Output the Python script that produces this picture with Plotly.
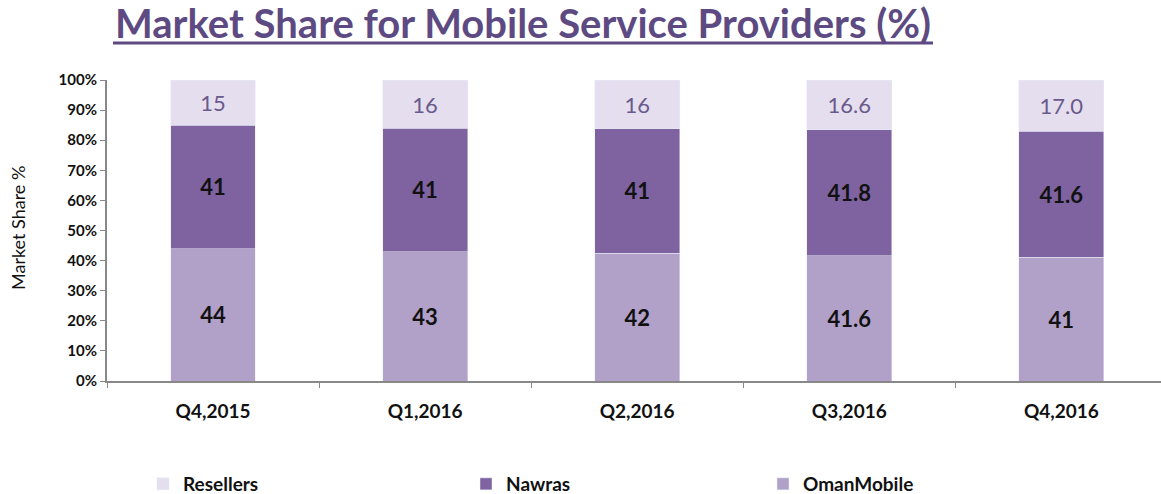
import plotly.graph_objects as go

quarters = ["Q4,2015", "Q1,2016", "Q2,2016", "Q3,2016", "Q4,2016"]
oman_mobile = [44, 43, 42, 41.6, 41]
nawras = [41, 41, 41, 41.8, 41.6]
resellers = [15, 16, 16, 16.6, 17.0]
oman_labels = ["44", "43", "42", "41.6", "41"]
nawras_labels = ["41", "41", "41", "41.8", "41.6"]
resellers_labels = ["15", "16", "16", "16.6", "17.0"]
y_ticks = list(range(0, 101, 10))
y_ticklabels = [f"{v}%" for v in y_ticks]

C_OMAN = "#B1A0C8"
C_NAWRAS = "#7E63A0"
C_RES = "#E5DEEE"
FONT = "Lato, 'DejaVu Sans', sans-serif"

W, H = 1161, 494
L, R, T, B = 107, 0, 80, 113
PW, PH = W - L - R, H - T - B

fig = go.Figure()
fig.add_trace(go.Bar(
    x=quarters, y=oman_mobile, name="OmanMobile", marker_color=C_OMAN,
    text=oman_labels, textposition="inside", insidetextanchor="middle",
    textfont=dict(family=FONT, size=22, color="#111111", weight="bold"),
    legend="legend3", showlegend=True,
))
fig.add_trace(go.Bar(
    x=quarters, y=nawras, name="Nawras", marker_color=C_NAWRAS,
    text=nawras_labels, textposition="inside", insidetextanchor="middle",
    textfont=dict(family=FONT, size=22, color="#111111", weight="bold"),
    legend="legend2", showlegend=True,
))
fig.add_trace(go.Bar(
    x=quarters, y=resellers, name="Resellers", marker_color=C_RES,
    text=resellers_labels, textposition="inside", insidetextanchor="middle",
    textfont=dict(family=FONT, size=22, color="#6A5A8C"),
    legend="legend", showlegend=True,
))

legend_common = dict(orientation="h", yanchor="middle", xanchor="left",
                     xref="container", yref="container",
                     y=1 - 484 / H,
                     font=dict(family=FONT, size=19, color="#111111", weight="bold"),
                     bgcolor="rgba(0,0,0,0)", itemclick=False, itemdoubleclick=False)

underline_y = 1 + (T - 43) / PH

fig.update_layout(
    width=W, height=H,
    margin=dict(l=L, r=R, t=T, b=B, autoexpand=False),
    paper_bgcolor="white", plot_bgcolor="white",
    showlegend=True,
    barmode="stack", barnorm="percent", bargap=0.6,
    title=dict(
        text="<b>Market Share for Mobile Service Providers (%)</b>",
        x=523 / W, xanchor="center", y=1 - 24 / H, yanchor="middle",
        font=dict(family=FONT, size=40, color="#5E4A82"),
    ),
    legend=dict(x=143 / W, **legend_common),
    legend2=dict(x=466 / W, **legend_common),
    legend3=dict(x=763 / W, **legend_common),
    shapes=[dict(type="line", xref="paper", yref="paper",
                 x0=(113 - L) / PW, x1=(933 - L) / PW,
                 y0=underline_y, y1=underline_y,
                 line=dict(color="#5E4A82", width=3))],
    annotations=[dict(text="Market Share %", xref="paper", yref="paper",
                      x=(18 - L) / PW, y=(381 - 228) / PH, textangle=-90,
                      xanchor="center", yanchor="middle", showarrow=False,
                      font=dict(family=FONT, size=18, color="#111111"))],
    font=dict(family=FONT),
)

fig.update_xaxes(
    range=[-0.5, 4.47], showline=True, linecolor="#888888", linewidth=2,
    ticks="outside", tickson="boundaries", ticklen=5, tickcolor="#888888",
    ticklabelstandoff=12, automargin=False,
    tickfont=dict(family=FONT, size=19, color="#111111", weight="bold"),
    showgrid=False,
)
fig.update_yaxes(
    range=[0, 100], tickvals=y_ticks, ticktext=y_ticklabels,
    showline=True, linecolor="#888888", linewidth=2,
    ticks="outside", ticklen=5, tickcolor="#888888", automargin=False,
    tickfont=dict(family=FONT, size=15, color="#111111", weight="bold"),
    showgrid=False, zeroline=False,
)

fig.write_html("out.html", config={"displayModeBar": False},
               post_script="document.body.style.margin='0';document.body.style.overflow='hidden';")
